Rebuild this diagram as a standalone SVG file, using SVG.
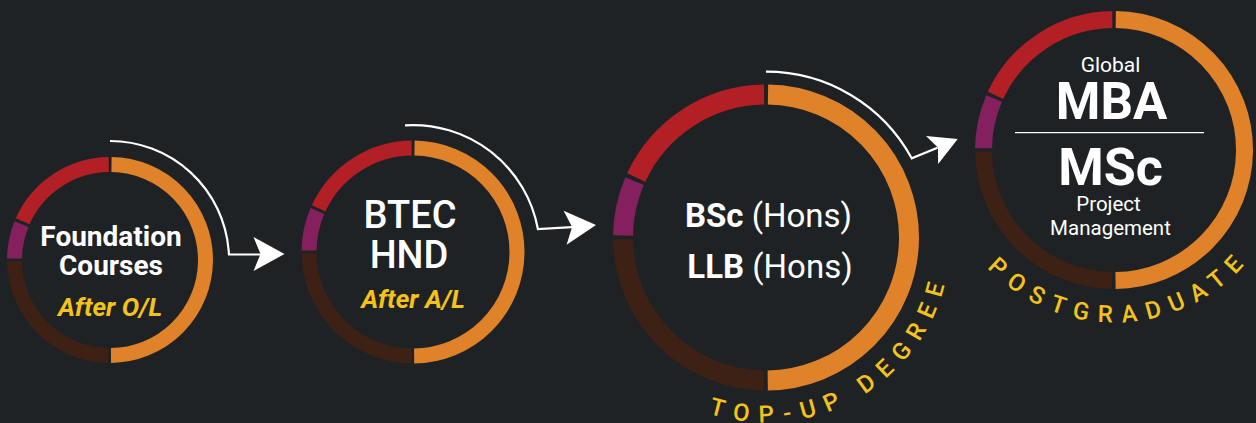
<svg xmlns="http://www.w3.org/2000/svg" width="1256" height="423" viewBox="0 0 1256 423">
<style>
.seg{fill:none}
.o{stroke:#df8229}
.b{stroke:#3d2115}
.p{stroke:#85205f}
.r{stroke:#b21f25}
.t{font-family:Roboto,"Liberation Sans",sans-serif;fill:#ffffff;text-anchor:middle}
.y{font-family:Roboto,"Liberation Sans",sans-serif;fill:#f5c21b;text-anchor:middle;font-weight:700;font-style:italic}
.arc{font-family:Roboto,"Liberation Sans",sans-serif;fill:#f5c21b;font-weight:500;font-size:24px}
.conn{fill:none;stroke:#ffffff;stroke-width:2.2;stroke-linejoin:miter}
.head{fill:#ffffff}
</style>
<defs>
<path id="arcTop" d="M669.3,395.2 A185,185 0 0 0 950.9,242.3"/>
<path id="arcPost" d="M963.7,236.3 A175,175 0 0 0 1266.8,233.7"/>
<polygon id="ah" points="0,0 -31,-17 -24,0 -31,17"/>
</defs>
<rect width="1256" height="423" fill="#1e2225"/>

<g id="node-foundation">
<circle class="seg o" cx="110" cy="260" r="95.5" stroke-width="15" stroke-dasharray="297 9999" transform="rotate(-89.1 110 260)"/>
<circle class="seg b" cx="110" cy="260" r="95.5" stroke-width="15" stroke-dasharray="147 9999" transform="rotate(90.9 110 260)"/>
<circle class="seg p" cx="110" cy="260" r="95.5" stroke-width="15" stroke-dasharray="35.3 9999" transform="rotate(180.9 110 260)"/>
<circle class="seg r" cx="110" cy="260" r="95.5" stroke-width="15" stroke-dasharray="108.7 9999" transform="rotate(203.9 110 260)"/>
<text class="t" x="111" y="246" font-size="28" font-weight="700">Foundation</text>
<text class="t" x="111" y="275" font-size="28" font-weight="700">Courses</text>
<text class="y" x="110" y="316" font-size="26">After O/L</text>
</g>

<g id="node-btec">
<circle class="seg o" cx="413" cy="252" r="104" stroke-width="15" stroke-dasharray="323.7 9999" transform="rotate(-89.17 413 252)"/>
<circle class="seg b" cx="413" cy="252" r="104" stroke-width="15" stroke-dasharray="160.3 9999" transform="rotate(90.83 413 252)"/>
<circle class="seg p" cx="413" cy="252" r="104" stroke-width="15" stroke-dasharray="40.6 9999" transform="rotate(180.83 413 252)"/>
<circle class="seg r" cx="413" cy="252" r="104" stroke-width="15" stroke-dasharray="116.8 9999" transform="rotate(204.83 413 252)"/>
<text class="t" x="410" y="228" font-size="38" font-weight="500">BTEC</text>
<text class="t" x="409" y="268" font-size="38" font-weight="500">HND</text>
<text class="y" x="413" y="308" font-size="26">After A/L</text>
</g>

<g id="node-topup">
<circle class="seg o" cx="766" cy="237.5" r="143" stroke-width="20" stroke-dasharray="445.3 9999" transform="rotate(-89.2 766 237.5)"/>
<circle class="seg b" cx="766" cy="237.5" r="143" stroke-width="20" stroke-dasharray="220.6 9999" transform="rotate(90.8 766 237.5)"/>
<circle class="seg p" cx="766" cy="237.5" r="143" stroke-width="20" stroke-dasharray="55.9 9999" transform="rotate(180.8 766 237.5)"/>
<circle class="seg r" cx="766" cy="237.5" r="143" stroke-width="20" stroke-dasharray="160.7 9999" transform="rotate(204.8 766 237.5)"/>
<text class="t" x="768.5" y="227" font-size="33"><tspan font-weight="700">BSc</tspan> (Hons)</text>
<text class="t" x="770" y="278" font-size="33"><tspan font-weight="700">LLB</tspan> (Hons)</text>
<text class="arc" letter-spacing="10.1"><textPath href="#arcTop" startOffset="198.7" text-anchor="middle">TOP-UP DEGREE</textPath></text>
</g>

<g id="node-postgraduate">
<circle class="seg o" cx="1114" cy="150" r="130.5" stroke-width="17" stroke-dasharray="406.5 9999" transform="rotate(-89.23 1114 150)"/>
<circle class="seg b" cx="1114" cy="150" r="130.5" stroke-width="17" stroke-dasharray="201.5 9999" transform="rotate(90.77 1114 150)"/>
<circle class="seg p" cx="1114" cy="150" r="130.5" stroke-width="17" stroke-dasharray="51.2 9999" transform="rotate(180.77 1114 150)"/>
<circle class="seg r" cx="1114" cy="150" r="130.5" stroke-width="17" stroke-dasharray="146.8 9999" transform="rotate(204.77 1114 150)"/>
<text class="t" x="1110.5" y="72" font-size="21">Global</text>
<text class="t" x="1111.5" y="119" font-size="51" font-weight="700">MBA</text>
<line x1="1015" y1="132.7" x2="1204" y2="132.7" stroke="#ffffff" stroke-width="1.3"/>
<text class="t" x="1110.5" y="185" font-size="52" font-weight="700">MSc</text>
<text class="t" x="1108.5" y="211" font-size="20.5">Project</text>
<text class="t" x="1110.5" y="235" font-size="20.5">Management</text>
<text class="arc" letter-spacing="9.7"><textPath href="#arcPost" startOffset="188.2" text-anchor="middle">POSTGRADUATE</textPath></text>
</g>

<g id="connectors">
<path class="conn" d="M110,141 A119,119 0 0 1 228.6,250 L229,254.5 L262,254.5"/>
<use href="#ah" class="head" transform="translate(284.5,254)"/>
<path class="conn" d="M405,125.3 A127,127 0 0 1 537.9,229 L572,227.1"/>
<use href="#ah" class="head" transform="translate(596,225) rotate(-5)"/>
<path class="conn" d="M766,71.7 A165.8,165.8 0 0 1 911.7,158.3 L937.5,147.7"/>
<use href="#ah" class="head" transform="translate(957.7,139) rotate(-23.4) scale(0.9)"/>
</g>
</svg>
